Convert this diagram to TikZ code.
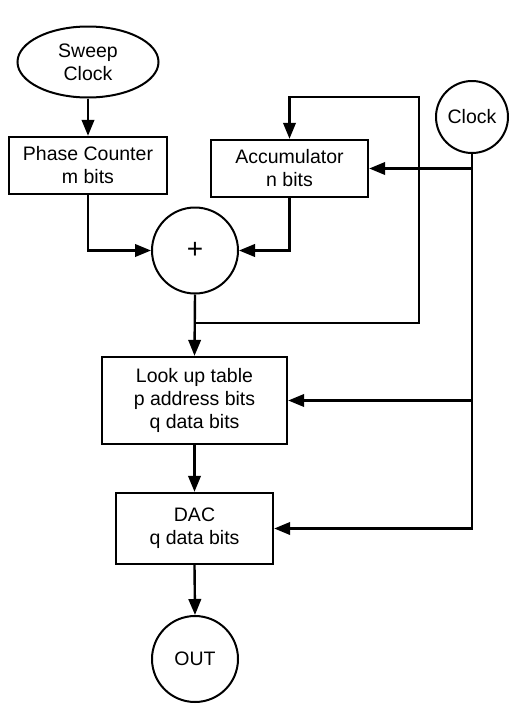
\documentclass[tikz,border=0pt]{standalone}
\usepackage{fontspec}
\setmainfont{Liberation Sans}
\usetikzlibrary{arrows.meta,shapes.geometric}
\begin{document}
\begin{tikzpicture}[x=1pt,y=-1pt,
  every node/.style={font=\fontsize{19.5}{23}\selectfont, align=center, inner sep=0pt},
  blk/.style={draw, line width=2.4pt, rectangle},
  rnd/.style={draw, line width=2pt, circle},
  ell/.style={draw, line width=2pt, ellipse},
  wire/.style={line width=2.4pt},
  arr/.style={wire, -{Triangle[length=16pt,width=12.5pt]}}]
\useasboundingbox (0,0) rectangle (514,723);
\node[ell, minimum width=141pt, minimum height=71pt] (sweep) at (88,62) {Sweep\\Clock};
\node[blk, minimum width=158pt, minimum height=57pt] (phase) at (88,165.5) {Phase Counter\\m bits};
\node[blk, minimum width=157pt, minimum height=57pt] (acc) at (289.5,168.5) {Accumulator\\n bits};
\node[rnd, minimum size=72pt] (clock) at (472,117) {Clock};
\node[rnd, minimum size=86pt, font=\fontsize{28}{28}\selectfont] (plus) at (195,250.5) {+};
\node[blk, minimum width=185pt, minimum height=87pt] (lut) at (194.5,400.5) {Look up table\\p address bits\\q data bits};
\node[blk, minimum width=157pt, minimum height=71pt] (dac) at (194.5,528.5) {DAC\\q data bits};
\node[rnd, minimum size=86pt] (out) at (195,659) {OUT};
\coordinate (j) at (195,323);
\coordinate (fbR) at (419,323);
\coordinate (fbT) at (419,97);
\draw[arr] (sweep) -- (phase);
\draw[arr] (phase.south) |- (plus.west);
\draw[arr] (acc.south) |- (plus.east);
\draw[arr] (plus.south) -- (lut.north);
\draw[arr] (j) -- (fbR) -- (fbT) -| (acc.north);
\draw[arr] (clock.south |- acc.east) -- (acc.east);
\draw[arr] (clock.south |- lut.east) -- (lut.east);
\draw[arr] (clock.south) |- (dac.east);
\draw[arr] (lut.south) -- (dac.north);
\draw[arr] (dac.south) -- (out.north);
\end{tikzpicture}
\end{document}
